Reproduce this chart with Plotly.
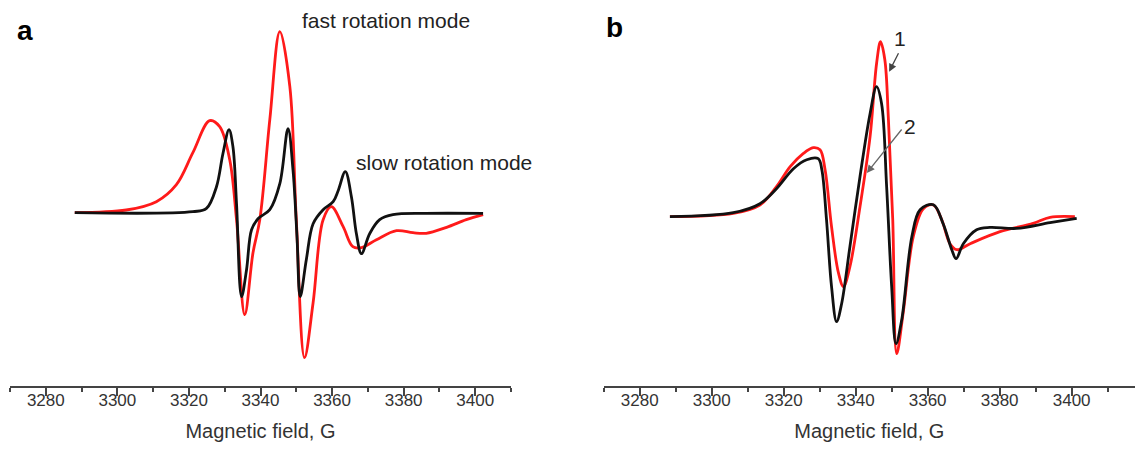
import plotly.graph_objects as go

W, H = 1135, 452

# Panel a: red = fast rotation mode, black = slow rotation mode
a_red_x = [3288.1, 3302.5, 3310.9, 3316.5, 3321.1, 3325.8, 3328.6, 3331.4, 3333.3, 3335.6,
           3337.9, 3339.8, 3342.6, 3345.4, 3348.2, 3350.0, 3352.3, 3354.7, 3357.5, 3359.8,
           3363.1, 3365.8, 3368.2, 3372.4, 3378.0, 3382.6, 3386.3, 3392.0, 3397.5, 3402.2]
a_red_y = [0, 2.7, 11, 28, 60, 92, 86, 53, -7, -102,
           -40, -7, 93, 181, 126, -7, -145, -90, -7, 6,
           -14, -34, -35, -27, -18, -20, -20.6, -14.6, -7, -2]

a_blk_x = [3288.1, 3321.1, 3324.9, 3327.7, 3329.5, 3331.2, 3332.3, 3333.3, 3334.7, 3336.1,
           3337.5, 3339.3, 3342.6, 3345.4, 3347.7, 3349.1, 3350.2, 3351.1, 3352.8, 3354.7,
           3357.5, 3360.3, 3361.7, 3363.7, 3365.4, 3366.8, 3368.2, 3370.5, 3373.3, 3377.0,
           3386.0, 3402.2]
a_blk_y = [0, 1, 4.3, 26, 59, 83, 66, 9, -84, -57,
           -17, -6, 3, 29, 84, 42, -24, -84, -47, -11,
           3, 11, 22, 41, 16, -21, -41, -21, -7, -2,
           -0.7, -0.7]

# Panel b: curve 1 (red) and curve 2 (black)
b_red_x = [3288.4, 3306.0, 3313.4, 3318.0, 3321.8, 3325.4, 3328.2, 3330.1, 3331.5, 3333.3,
           3335.2, 3336.6, 3338.4, 3341.2, 3344.0, 3345.8, 3346.9, 3348.1, 3349.1, 3350.3,
           3351.4, 3353.2, 3356.0, 3358.8, 3361.6, 3363.9, 3366.2, 3368.1, 3371.8, 3380.1,
           3389.3, 3394.0, 3400.9]
b_red_y = [0, 3.3, 11.7, 30, 50, 63, 69, 67, 47, -10,
           -56, -70, -50, 10, 80, 153, 175, 157, 97, -3,
           -137, -96, -20, 8, 11.7, -3, -27, -33, -27, -15,
           -6.7, -0.7, 0]

b_blk_x = [3288.4, 3306.0, 3313.4, 3318.0, 3322.7, 3326.4, 3329.6, 3330.6, 3331.9, 3333.3,
           3334.7, 3336.1, 3338.4, 3341.2, 3344.0, 3345.8, 3347.2, 3348.6, 3350.0, 3351.2,
           3352.8, 3355.6, 3357.9, 3361.6, 3364.3, 3366.7, 3367.9, 3369.9, 3373.6, 3377.3,
           3384.7, 3394.0, 3401.4]
b_blk_y = [0, 4, 13, 28, 48, 57, 58, 47, -3, -70,
           -105, -87, -30, 40, 103, 130, 113, 30, -70, -127,
           -103, -20, 7, 12, -7, -33, -42, -27, -13, -10.7,
           -11.7, -6, -1.7]

tick_vals = [3280, 3300, 3320, 3340, 3360, 3380, 3400]
tick_text = [str(v) for v in tick_vals]

RED = "#ff1a1a"
BLK = "#111111"
LW = 2.8
FONT = "Liberation Sans, Arial"

fig = go.Figure()
fig.add_trace(go.Scatter(x=a_red_x, y=a_red_y, mode="lines", xaxis="x", yaxis="y",
                         line=dict(color=RED, width=LW, shape="spline", smoothing=1.0)))
fig.add_trace(go.Scatter(x=a_blk_x, y=a_blk_y, mode="lines", xaxis="x", yaxis="y",
                         line=dict(color=BLK, width=LW, shape="spline", smoothing=1.0)))
fig.add_trace(go.Scatter(x=b_red_x, y=b_red_y, mode="lines", xaxis="x2", yaxis="y2",
                         line=dict(color=RED, width=LW, shape="spline", smoothing=1.0)))
fig.add_trace(go.Scatter(x=b_blk_x, y=b_blk_y, mode="lines", xaxis="x2", yaxis="y2",
                         line=dict(color=BLK, width=LW, shape="spline", smoothing=1.0)))

xcommon = dict(
    showline=True, linecolor="#444444", linewidth=2,
    ticks="outside", ticklen=8, tickwidth=2, tickcolor="#444444",
    tickvals=tick_vals, ticktext=tick_text,
    ticklabelstandoff=-10,
    tickfont=dict(family=FONT, size=17, color="#333333"),
    minor=dict(dtick=10, tick0=3270, ticks="outside", ticklen=4, tickwidth=2, tickcolor="#444444"),
    showgrid=False, zeroline=False,
    title=dict(text="Magnetic field, G", standoff=15,
               font=dict(family=FONT, size=20, color="#333333")),
)
ycommon = dict(visible=False, showgrid=False, zeroline=False)

fig.update_layout(
    width=W, height=H,
    margin=dict(l=0, r=0, t=0, b=66),
    paper_bgcolor="white", plot_bgcolor="white",
    showlegend=False,
    xaxis=dict(domain=[10 / W, 511 / W], range=[3270, 3410], anchor="y", **xcommon),
    yaxis=dict(range=[-173.3, 212.7], anchor="x", **ycommon),
    xaxis2=dict(domain=[603.7 / W, 1.0], range=[3270, 3417.6], anchor="y2", **xcommon),
    yaxis2=dict(range=[-169.3, 216.7], anchor="x2", **ycommon),
)

PH = 386.0  # plot-area height in px
txtfont = dict(family=FONT, size=21, color="#222222")
ann = [
    dict(text="<b>a</b>", x=24.5 / W, y=(PH - 30) / PH, xref="paper", yref="paper",
         xanchor="center", yanchor="middle", showarrow=False,
         font=dict(family=FONT, size=28, color="#000000")),
    dict(text="<b>b</b>", x=614.5 / W, y=(PH - 27) / PH, xref="paper", yref="paper",
         xanchor="center", yanchor="middle", showarrow=False,
         font=dict(family=FONT, size=28, color="#000000")),
    dict(text="fast rotation mode", x=3375.0, y=192.7, xref="x", yref="y",
         xanchor="center", yanchor="middle", showarrow=False, font=txtfont),
    dict(text="slow rotation mode", x=3391.2, y=50.7, xref="x", yref="y",
         xanchor="center", yanchor="middle", showarrow=False, font=txtfont),
    dict(text="1", x=3352.3, y=178, xref="x2", yref="y2",
         xanchor="center", yanchor="middle", showarrow=False, font=txtfont),
    dict(text="2", x=3355.1, y=90, xref="x2", yref="y2",
         xanchor="center", yanchor="middle", showarrow=False, font=txtfont),
    dict(text="", x=3349.3, y=145, xref="x2", yref="y2", ax=3352.1, ay=165,
         axref="x2", ayref="y2", showarrow=True, arrowhead=2, arrowsize=1.2,
         arrowwidth=1.3, arrowcolor="#444444"),
    dict(text="", x=3343.1, y=43.7, xref="x2", yref="y2", ax=3353.1, ay=88.7,
         axref="x2", ayref="y2", showarrow=True, arrowhead=2, arrowsize=1.2,
         arrowwidth=1.3, arrowcolor="#666666"),
]
fig.update_layout(annotations=ann)

fig.write_html("out.html")
